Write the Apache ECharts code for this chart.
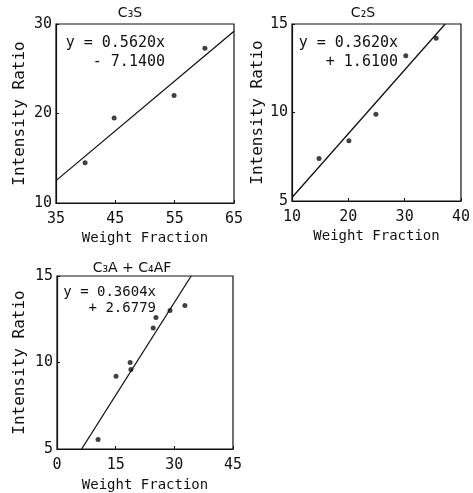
<!DOCTYPE html>
<html><head><meta charset="utf-8">
<script src="https://cdn.jsdelivr.net/npm/echarts@6/dist/echarts.min.js"></script>
<style>html,body{margin:0;padding:0;background:#fff}#c{width:473px;height:493px}</style>
</head><body><div id="c"></div>
<script>
// Panel titles and equations
const titles = ['C₃S', 'C₂S', 'C₃A + C₄AF'];
const eqLine1 = ['y = 0.5620x', 'y = 0.3620x', 'y = 0.3604x'];
const eqLine2 = ['- 7.1400', '+ 1.6100', '+ 2.6779'];
const xName = 'Weight Fraction';
const yName = 'Intensity Ratio';

// Axis ranges / ticks
const xMin = [35, 10, 0], xMax = [65, 40, 45], xStep = [10, 10, 15];
const yMin = [10, 5, 5], yMax = [30, 15, 15], yStep = [10, 5, 5];

// Measured points
const c3sX = [39.9, 44.8, 54.9, 60.1];
const c3sY = [14.5, 19.5, 22.0, 27.3];
const c2sX = [14.8, 20.1, 24.9, 30.2, 35.6];
const c2sY = [7.4, 8.4, 9.9, 13.2, 14.2];
const c3aX = [10.5, 15.1, 18.7, 18.9, 24.6, 25.3, 28.9, 32.7];
const c3aY = [5.55, 9.2, 10.0, 9.6, 12.0, 12.6, 13.0, 13.3];

// Fitted line endpoints
const fit1X = [35, 65], fit1Y = [12.5, 29.2];
const fit2X = [10, 37.2], fit2Y = [5.2, 15];
const fit3X = [6.3, 34.3], fit3Y = [5, 15];

const ptsX = [c3sX, c2sX, c3aX], ptsY = [c3sY, c2sY, c3aY];
const fitX = [fit1X, fit2X, fit3X], fitY = [fit1Y, fit2Y, fit3Y];

const grids = [
  {left: 56, top: 24, width: 178, height: 179},
  {left: 292, top: 24, width: 175, height: 177},
  {left: 57, top: 276, width: 176, height: 181}
];
const yGap = [28, 21, 29];
const xGap = [28, 28, 29];
const titlePos = [{x: 130, y: 13}, {x: 363, y: 13}, {x: 132, y: 268}];
const eqPos = [{x: 165, y1: 43, y2: 62, fs: 15}, {x: 398, y1: 43, y2: 62, fs: 15}, {x: 156, y1: 292, y2: 308, fs: 14}];

const mono = 'DejaVu Sans Mono';
const zip = (a, b) => a.map((v, i) => [v, b[i]]);

const option = {
  animation: false,
  backgroundColor: '#fff',
  grid: grids.map(g => Object.assign({show: true, borderColor: '#111', borderWidth: 1.2, containLabel: false}, g)),
  xAxis: grids.map((g, i) => ({
    type: 'value', gridIndex: i, min: xMin[i], max: xMax[i], interval: xStep[i],
    name: xName, nameLocation: 'middle', nameGap: xGap[i],
    nameTextStyle: {fontFamily: mono, fontSize: 14, color: '#111'},
    axisLine: {show: true, lineStyle: {color: '#111', width: 1.2}},
    axisTick: {show: true, inside: true, length: 3, lineStyle: {color: '#111'}},
    axisLabel: {fontFamily: mono, fontSize: 15, color: '#111', margin: 9},
    splitLine: {show: false}
  })),
  yAxis: grids.map((g, i) => ({
    type: 'value', gridIndex: i, min: yMin[i], max: yMax[i], interval: yStep[i],
    name: yName, nameLocation: 'middle', nameGap: yGap[i], nameRotate: 90,
    nameTextStyle: {fontFamily: mono, fontSize: 16, color: '#111'},
    axisLine: {show: true, lineStyle: {color: '#111', width: 1.2}},
    axisTick: {show: true, inside: true, length: 3, lineStyle: {color: '#111'}},
    axisLabel: {fontFamily: mono, fontSize: 15, color: '#111', margin: 4},
    splitLine: {show: false}
  })),
  series: [].concat(
    grids.map((g, i) => ({
      type: 'line', xAxisIndex: i, yAxisIndex: i, data: zip(fitX[i], fitY[i]),
      showSymbol: false, lineStyle: {color: '#111', width: 1.3}, silent: true
    })),
    grids.map((g, i) => ({
      type: 'scatter', xAxisIndex: i, yAxisIndex: i, data: zip(ptsX[i], ptsY[i]),
      symbolSize: 5, itemStyle: {color: '#111'}
    }))
  ),
  graphic: [].concat(
    titles.map((t, i) => ({
      type: 'text', x: titlePos[i].x, y: titlePos[i].y,
      style: {text: t, fontFamily: 'DejaVu Sans', fontSize: 14, fill: '#111', align: 'center', verticalAlign: 'middle'}
    })),
    eqLine1.map((t, i) => ({
      type: 'text', x: eqPos[i].x, y: eqPos[i].y1,
      style: {text: t, fontFamily: mono, fontSize: eqPos[i].fs, fill: '#111', align: 'right', verticalAlign: 'middle'}
    })),
    eqLine2.map((t, i) => ({
      type: 'text', x: eqPos[i].x, y: eqPos[i].y2,
      style: {text: t, fontFamily: mono, fontSize: eqPos[i].fs, fill: '#111', align: 'right', verticalAlign: 'middle'}
    }))
  )
};
echarts.init(document.getElementById('c')).setOption(option);
</script>
</body></html>
